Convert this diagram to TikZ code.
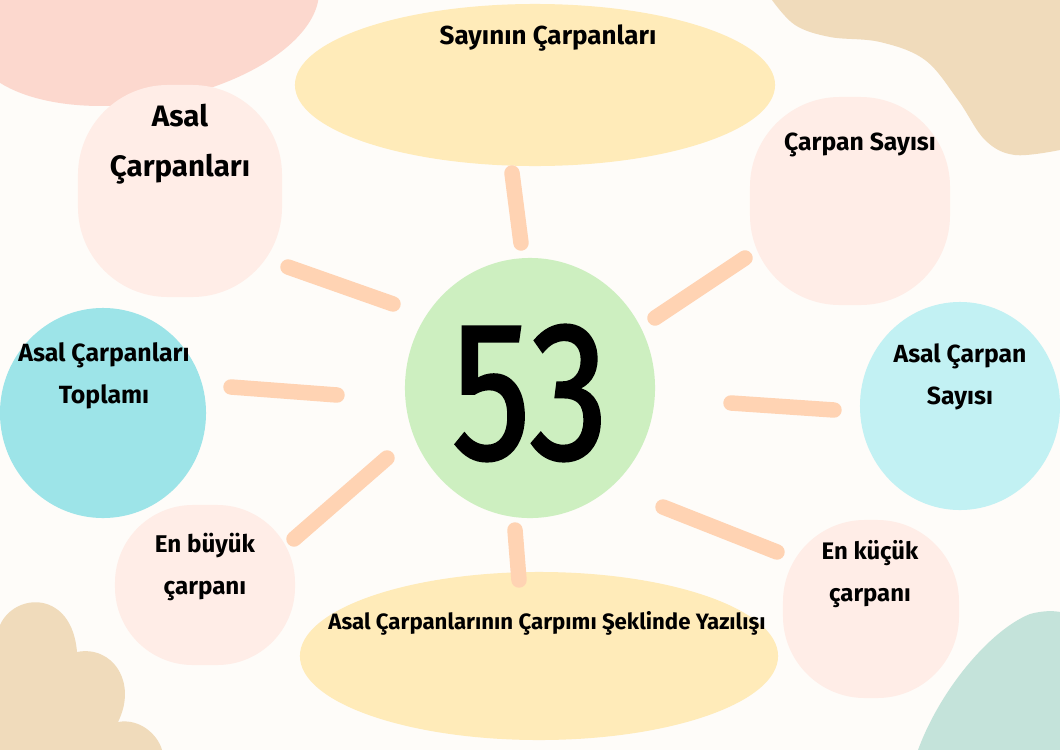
\documentclass[tikz,border=0pt]{standalone}
\usepackage{fontspec}
\setmainfont{Fira Sans}
\newfontfamily\numfont[FakeBold=1.6]{Fira Sans}
\usetikzlibrary{shapes.geometric}
\definecolor{bg}{HTML}{FEFCF9}
\definecolor{pinkA}{HTML}{FCD8CE}
\definecolor{pinkL}{HTML}{FFEDE7}
\definecolor{yel}{HTML}{FFEBB9}
\definecolor{grn}{HTML}{CDEFC0}
\definecolor{cyanD}{HTML}{9DE4E8}
\definecolor{cyanL}{HTML}{C2F1F3}
\definecolor{tanC}{HTML}{F0DBBB}
\definecolor{tealC}{HTML}{C4E3DA}
\definecolor{spokeC}{HTML}{FFD3B3}
\begin{document}
\begin{tikzpicture}[x=0.025cm,y=-0.025cm,
  oval/.style={ellipse, draw=none, inner sep=0pt},
  squircle/.style={rectangle, draw=none, inner sep=0pt, rounded corners=2.25cm},
  lbl/.style={font=\fontsize{17.6}{30}\selectfont\bfseries, align=center, text=black, inner sep=0pt},
  spoke/.style={line width=11pt, line cap=round, draw=spokeC}]
\useasboundingbox (0,0) rectangle (1060,750);
\fill[bg] (0,0) rectangle (1060,750);
% background blobs
\fill[pinkA, rotate around={10:(145,15)}] (145,15) ellipse [x radius=176, y radius=87];
\fill[tanC] plot[smooth, tension=0.6] coordinates {(772,0) (795,25) (830,37) (880,42) (925,60) (958,100) (985,140) (1015,155) (1060,150)} -- (1060,0) -- cycle;
\fill[tanC] (0,625) .. controls (15,592) and (72,590) .. (77,652) .. controls (112,645) and (138,682) .. (118,722) .. controls (140,718) and (158,735) .. (162,750) -- (0,750) -- cycle;
\fill[tealC] (918,750) .. controls (940,690) and (990,630) .. (1030,614) .. controls (1045,610) and (1055,611) .. (1060,612) -- (1060,750) -- cycle;
% blobs
\node[oval, fill=yel, minimum width=12cm, minimum height=4.05cm] (topY) at (535,85) {};
\node[oval, fill=yel, minimum width=11.95cm, minimum height=4.2cm] (botY) at (539,656) {};
\node[squircle, fill=pinkL, minimum width=5.1cm, minimum height=5.3cm] (asalC) at (180,191) {};
\node[squircle, fill=pinkL, minimum width=5cm, minimum height=5.2cm] (carpS) at (850,201) {};
\node[oval, fill=cyanD, minimum width=5.15cm, minimum height=5.25cm] (cyL) at (103,413) {};
\node[oval, fill=cyanL, minimum width=5cm, minimum height=5.2cm] (cyR) at (960,406) {};
\node[squircle, fill=pinkL, rounded corners=1.95cm, minimum width=4.5cm, minimum height=4cm] (buyuk) at (205,585) {};
\node[squircle, fill=pinkL, rounded corners=2.05cm, minimum width=4.4cm, minimum height=4.45cm] (kucuk) at (871,609) {};
\node[oval, fill=grn, minimum width=6.25cm, minimum height=6.5cm] (center) at (530,388) {};
% spokes
\coordinate (s1a) at (512,173); \coordinate (s1b) at (521,243);
\coordinate (s2a) at (288,267); \coordinate (s2b) at (393,304);
\coordinate (s3a) at (231,387); \coordinate (s3b) at (337,395);
\coordinate (s4a) at (294,539); \coordinate (s4b) at (387,458);
\coordinate (s5a) at (515,530); \coordinate (s5b) at (519,580);
\coordinate (s6a) at (655,318); \coordinate (s6b) at (745,258);
\coordinate (s7a) at (731,403); \coordinate (s7b) at (834,410);
\coordinate (s8a) at (663,507); \coordinate (s8b) at (777,552);
\foreach \i in {1,...,8} {\draw[spoke] (s\i a) -- (s\i b);}
% labels
\node[lbl, font=\fontsize{18.5}{22}\selectfont\bfseries] (tTop) at (548,38) {Sayının Çarpanları};
\node[lbl, font=\fontsize{21}{36}\selectfont\bfseries] (tAsal) at (180,144) {Asal\\Çarpanları};
\node[lbl] (tCarp) at (860,145) {Çarpan Sayısı};
\node[lbl, font=\fontsize{17.7}{30}\selectfont\bfseries] (tTop2) at (104,376) {Asal Çarpanları\\Toplamı};
\node[lbl] (tSay) at (960,377) {Asal Çarpan\\Sayısı};
\node[lbl, font=\fontsize{17.2}{30}\selectfont\bfseries] (tBuy) at (205,567) {En büyük\\çarpanı};
\node[lbl, font=\fontsize{17}{30}\selectfont\bfseries] (tKuc) at (870,574) {En küçük\\çarpanı};
\node[lbl, font=\fontsize{15.8}{18}\selectfont\bfseries] (tBot) at (547,623) {Asal Çarpanlarının Çarpımı Şeklinde Yazılışı};
\node[inner sep=0pt] (num) at (530,393) {\scalebox{0.8}[1]{\numfont\fontsize{140}{140}\selectfont 53}};
\end{tikzpicture}
\end{document}
